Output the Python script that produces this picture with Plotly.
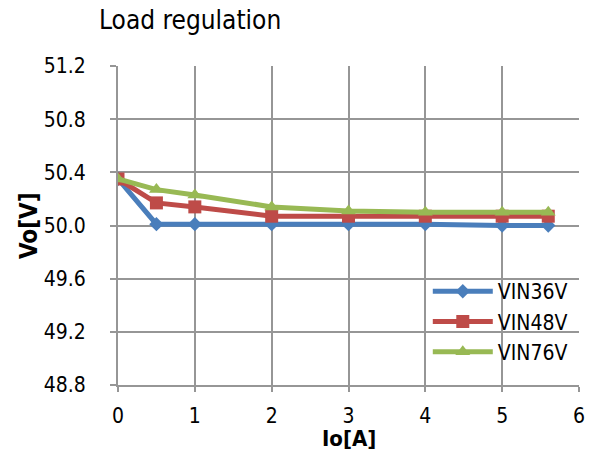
import plotly.graph_objects as go

io_a = [0, 0.5, 1, 2, 3, 4, 5, 5.6]
vin36 = [50.35, 50.01, 50.01, 50.01, 50.01, 50.01, 50.00, 50.00]
vin48 = [50.35, 50.17, 50.14, 50.07, 50.07, 50.07, 50.07, 50.07]
vin76 = [50.35, 50.27, 50.23, 50.14, 50.11, 50.10, 50.10, 50.10]
series_names = ["VIN36V", "VIN48V", "VIN76V"]
y_ticks = [48.8, 49.2, 49.6, 50.0, 50.4, 50.8, 51.2]
x_ticks = [0, 1, 2, 3, 4, 5, 6]

colors = ["#4A7EBB", "#BE4B48", "#98B954"]
symbols = ["diamond", "square", "triangle-up"]
sizes = [11, 13, 13]

fig = go.Figure()
for name, ys, c, s, sz in zip(series_names, [vin36, vin48, vin76], colors, symbols, sizes):
    fig.add_trace(go.Scatter(x=io_a, y=ys, mode="lines+markers", name=name,
                             line=dict(color=c, width=5),
                             marker=dict(color=c, symbol=s, size=sz)))

font = "DejaVu Sans Condensed, DejaVu Sans, sans-serif"
grid = "#969696"
fig.update_layout(
    width=597, height=452,
    margin=dict(l=118, r=15, t=66, b=67),
    paper_bgcolor="white", plot_bgcolor="white",
    font=dict(family=font, size=21, color="black"),
    title=dict(text="Load regulation", x=99/597, xanchor="left", y=1-20/452, yanchor="middle",
               font=dict(size=26, family=font)),
    showlegend=True,
    legend=dict(x=0.672, y=0.357, xanchor="left", yanchor="top", bgcolor="rgba(0,0,0,0)",
                font=dict(size=21, family=font), tracegroupgap=0, itemwidth=60),
    annotations=[
        dict(text="<b>Io[A]</b>", xref="paper", yref="paper", x=0.5, y=-53/319,
             xanchor="center", yanchor="middle", showarrow=False, font=dict(size=22, family=font)),
        dict(text="<b>Vo[V]</b>", xref="paper", yref="paper", x=-90/464, y=0.5, textangle=-90,
             xanchor="center", yanchor="middle", showarrow=False, font=dict(size=24, family=font)),
    ],
)
fig.update_xaxes(range=[0, 6], tickvals=x_ticks, showgrid=True, gridcolor=grid, gridwidth=2,
                 showline=True, linecolor=grid, linewidth=2, zeroline=False,
                 ticks="outside", ticklen=5, tickcolor=grid, tickwidth=2, ticklabelstandoff=6)
fig.update_yaxes(range=[48.8, 51.2], tickvals=y_ticks, tickformat=".1f", showgrid=True, gridcolor=grid,
                 gridwidth=2, showline=True, linecolor=grid, linewidth=2, zeroline=False,
                 ticks="outside", ticklen=6, tickcolor=grid, tickwidth=2, ticklabelstandoff=20)

fig.write_html("out.html")
